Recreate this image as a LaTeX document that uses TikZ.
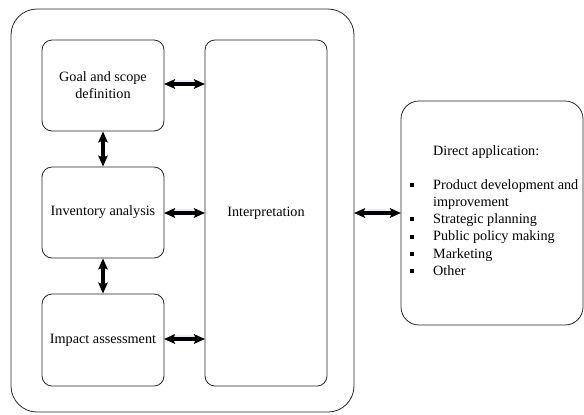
\documentclass[tikz,border=0pt]{standalone}
\usepackage{fontspec}
\setmainfont{Liberation Serif}
\usetikzlibrary{arrows.meta}
\tikzset{
  box/.style={draw=black!85, line width=0.8bp, rounded corners=10bp, minimum width=122bp, inner sep=0pt, align=center, font=\fontsize{14.2bp}{17bp}\selectfont},
  outerbox/.style={draw=black!85, line width=0.8bp, rounded corners=26bp, inner sep=0pt},
  dbl/.style={line width=3.6bp, {Stealth[length=11bp,width=9.5bp,inset=2bp]}-{Stealth[length=11bp,width=9.5bp,inset=2bp]}, black},
  glow/.style={line width=3bp, cyan!40!blue!15, opacity=0.5, shorten <=7bp, shorten >=7bp},
  txt/.style={inner sep=0pt, font=\fontsize{14.2bp}{17.3bp}\selectfont, align=left}
}
\newcommand{\sqbul}{\makebox[23bp][l]{\raisebox{2.2bp}{\rule{4.2bp}{4.2bp}}}}
\begin{document}
\begin{tikzpicture}[x=1bp,y=-1bp]
\useasboundingbox (0,0) rectangle (584,414);
\node[outerbox, minimum width=343bp, minimum height=403bp] (outer) at (182.5,210.5) {};
\node[box, minimum height=91bp] (goal) at (103,85.5) {Goal and scope\\definition};
\node[box, minimum height=91bp] (inv) at (103,212.5) {Inventory analysis};
\node[box, minimum height=92bp] (imp) at (103,340) {Impact assessment};
\node[box, minimum height=346bp] (interp) at (266,213) {Interpretation};
\node[draw=black!85, line width=0.8bp, rounded corners=18bp, minimum width=182bp, minimum height=224bp, inner sep=0pt] (direct) at (492,213) {};
\node[txt, anchor=base west] (title) at (433,155) {Direct application:};
\node[txt, anchor=north west] (list) at (410,179) {\sqbul Product development and\\\hspace*{23bp}improvement\\\sqbul Strategic planning\\\sqbul Public policy making\\\sqbul Marketing\\\sqbul Other};
% arrows
\coordinate (g1) at (164,84);
\coordinate (g2) at (205,84);
\coordinate (i1) at (164,213);
\coordinate (i2) at (205,213);
\coordinate (m1) at (164,339);
\coordinate (m2) at (205,339);
\coordinate (d1) at (354,213);
\coordinate (d2) at (401,213);
\foreach \a/\b in {g1/g2,i1/i2,m1/m2,d1/d2}{
  \draw[glow] ([yshift=2.5bp]\a) -- ([yshift=2.5bp]\b);
}
\draw[dbl] (g1) -- (g2);
\draw[dbl] (i1) -- (i2);
\draw[dbl] (m1) -- (m2);
\draw[dbl] (d1) -- (d2);
\draw[dbl] (goal.south) -- (inv.north);
\draw[dbl] (inv.south) -- (imp.north);
\end{tikzpicture}
\end{document}
